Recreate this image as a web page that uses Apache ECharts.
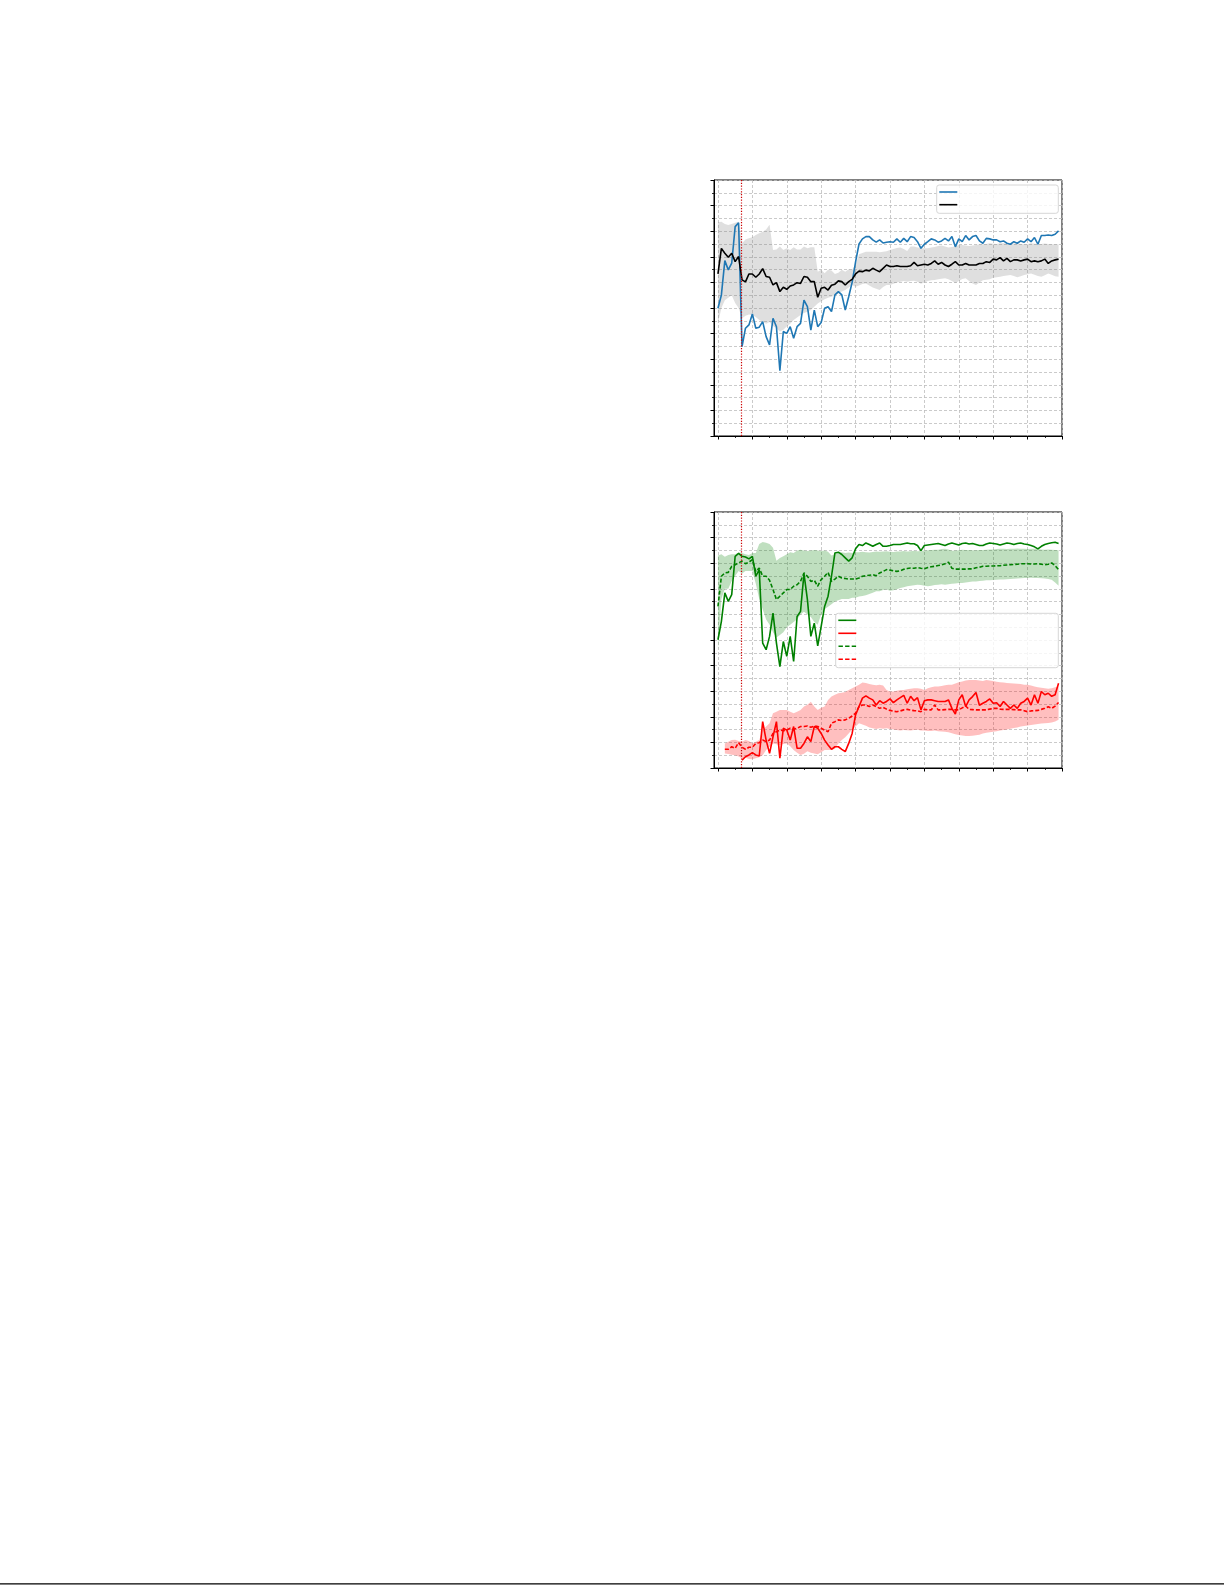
<!DOCTYPE html>
<html>
<head>
<meta charset="utf-8">
<script src="https://cdn.jsdelivr.net/npm/echarts@6/dist/echarts.min.js"></script>
<style>
  html, body { margin: 0; padding: 0; background: #ffffff; }
  #chart { width: 1225px; height: 1585px; }
</style>
</head>
<body>
<div id="chart"></div>
<script>
// ---------- data ----------
const xValues = [0,2,4,6,8,10,12,14,16,18,20,22,24,26,28,30,32,34,36,38,40,42,44,46,48,50,52,54,56,58,60,62,64,66,68,70,72,74,76,78,80,82,84,86,88,90,92,94,96,98,100,102,104,106,108,110,112,114,116,118,120,122,124,126,128,130,132,134,136,138,140,142,144,146,148,150,152,154,156,158,160,162,164,166,168,170,172,174,176,178,180,182,184,186,188,190,192,194,196,198];
const majorTicks = [0,20,40,60,80,100,120,140,160,180,200];
const minorTicks = [10,30,50,70,90,110,130,150,170,190];
const switchPoint = 13.5;

// top panel
const blueLine = [49.9,55.1,68.5,64.9,67.5,81.8,83.3,34.9,42.1,43.4,
47.7,42.1,42.5,44.7,38.8,35.6,46.0,42.7,25.5,40.8,
40.1,42.7,38.2,42.7,44.0,53.1,50.5,41.4,49.2,42.7,
44.3,49.9,50.5,48.6,55.1,56.4,55.1,49.2,54.4,60.0,
68.0,75.0,77.0,77.9,77.9,76.6,75.7,76.6,75.4,75.7,
75.9,75.7,77.0,75.7,77.2,75.9,77.9,77.5,75.9,73.3,
74.9,75.9,77.0,76.6,75.7,76.2,77.2,76.2,77.9,73.9,
77.0,75.9,78.3,76.6,77.9,78.3,76.2,75.3,77.2,77.0,
76.6,76.6,75.9,76.2,75.3,74.9,75.9,75.3,76.2,75.7,
77.0,75.9,77.5,74.9,78.3,78.3,78.5,78.3,78.8,80.1];
const blackLine = [63.3,73.3,71.4,69.8,71.4,68.1,70.1,61.0,60.2,63.3,
63.3,62.0,63.3,65.4,62.3,62.0,59.0,59.9,56.4,58.1,
57.3,58.6,59.0,59.9,59.6,62.3,62.0,60.3,60.3,54.2,
57.7,58.1,57.0,58.9,59.3,60.6,60.3,59.0,60.3,61.2,
63.3,64.4,64.2,64.8,64.5,65.5,64.8,64.2,65.5,66.8,
66.2,66.2,66.5,66.2,66.2,66.2,66.5,67.8,66.5,66.8,
67.1,66.8,67.4,68.4,67.1,67.8,66.8,66.2,67.1,68.1,
66.8,66.8,67.4,66.8,66.8,66.8,67.4,67.4,68.1,67.8,
69.1,68.8,69.7,68.4,69.4,68.1,68.8,68.8,68.4,68.8,
69.1,68.1,68.4,68.1,68.4,69.1,67.4,68.4,68.8,69.1];
const grayUpper = [83.5,83.7,82.8,82.4,82.8,83.3,83.7,75.3,76.8,77.2,
77.6,78.5,79.2,79.8,80.7,82.5,72.7,72.9,74.0,72.7,
73.3,72.7,73.7,72.9,72.9,74.0,73.3,73.7,73.7,64.2,
64.9,63.6,64.9,64.6,63.3,63.8,64.9,64.2,65.1,64.9,
67.0,71.0,71.5,72.0,72.0,72.0,72.0,71.8,72.0,72.2,
72.7,73.0,73.4,73.6,73.0,72.3,74.0,74.0,73.6,73.3,
73.3,73.3,73.6,73.8,74.2,74.4,74.0,73.6,73.8,74.0,
74.6,74.6,74.4,74.2,74.4,74.6,74.9,74.9,75.0,75.3,
75.1,75.0,75.3,75.3,75.0,74.9,75.2,75.3,75.0,74.9,
75.0,75.3,75.1,74.9,75.0,75.2,75.0,74.9,74.9,74.9];
const grayLower = [44,50,53,54,55,52,50,46.0,47.0,47.5,
47.3,46.5,45.3,44.5,43.8,44.5,43.0,42.1,40.8,41.5,
42.8,43.8,45.3,46.3,47.3,48.0,48.5,49.2,50.5,51.8,
52.6,53.4,54.0,54.4,55.0,55.7,56.4,57.0,58.0,59.0,
58.3,58.8,59.4,59.6,58.8,58.0,57.5,57.0,58.2,59.0,
59.0,59.5,60.0,60.3,60.5,60.3,60.5,60.6,60.3,59.5,
60.0,60.5,60.8,60.9,61.2,61.4,61.6,61.2,60.5,59.8,
60.5,61.3,61.6,60.5,59.6,59.0,60.0,60.8,61.0,61.2,
61.8,62.0,62.2,62.5,62.7,62.9,62.5,62.0,62.4,62.9,
63.2,63.5,63.0,62.5,62.2,62.8,63.5,63.0,62.4,62.2];

// bottom panel
const greenSolid = [50.1,57.3,68.4,65.1,67.7,82.7,83.8,82.7,82.4,81.7,
82.7,74.9,77.5,48.8,46.2,51.4,60.5,48.8,39.6,49.4,
43.6,51.4,41.6,59.2,61.2,75.9,65.8,51.4,56.6,47.7,
55.3,63.1,67.1,74.9,84.0,84.3,83.4,82.1,80.8,82.1,
85.6,87.3,86.9,87.9,87.3,86.6,87.3,87.9,86.6,86.6,
86.9,87.3,87.3,87.3,87.6,87.9,87.6,87.6,86.9,84.9,
86.9,87.1,87.3,87.5,87.7,87.3,86.9,87.5,87.9,87.5,
87.1,87.7,87.9,87.5,87.7,87.3,86.9,86.9,87.5,87.9,
87.7,87.5,87.1,87.5,87.9,87.7,87.3,87.7,87.9,87.5,
87.3,86.9,86.4,85.6,86.6,87.3,87.7,88.0,88.2,87.7];
const greenDashed = [63.1,74.9,76.2,76.4,78.8,79.4,80.1,80.8,79.8,80.4,
81.4,76.8,78.1,74.9,74.9,73.3,69.7,65.8,67.1,68.4,
69.7,69.7,71.0,71.6,72.9,76.2,74.9,72.9,73.3,71.0,
73.6,74.9,76.4,72.9,73.8,74.9,74.2,74.0,73.8,73.8,
73.8,74.2,74.9,75.1,75.3,75.5,75.1,76.2,76.8,77.5,
77.3,77.0,76.8,77.0,77.6,77.9,78.1,78.0,78.3,78.0,
77.8,78.3,78.6,78.8,79.1,79.3,79.8,80.4,78.0,77.7,
77.7,77.7,77.7,77.8,77.8,78.2,78.4,78.8,78.8,78.9,
78.9,79.0,79.0,79.2,79.3,79.4,79.5,79.6,79.8,79.8,
79.8,79.7,79.7,79.8,79.6,79.4,79.6,80.1,79.0,77.5];
const greenUpper = [83,83.5,82.5,83.2,83.5,83.5,84.2,84,83.5,83.2,
84,84,87.5,88.3,88,87.5,86,81,82,82.7,
83.5,84.3,84,85,85.3,85,84.8,85,85.2,85,
84.8,85,84.5,83,83.5,84,84.3,84,84.2,84,
84.3,84.3,84.5,84.3,84.2,84.4,84.6,84.5,84.6,84.7,
84.5,84.4,84.6,84.6,84.8,84.6,84.7,84.9,84.7,84.8,
85.0,85.1,85.2,85.3,85.3,85.5,85.6,85.4,84.9,85.0,
85.1,85.3,85.2,85.2,85.1,85.1,85.2,85.2,85.3,85.4,
85.4,85.5,85.6,85.6,85.5,85.6,85.6,85.7,85.6,85.6,
85.5,85.6,85.6,85.5,85.4,85.3,85.4,85.3,85.2,85.1];
const greenLower = [46,66,70,70,73,75,77,76,77,77,
77,72,66,62,58,56,53,51,52,53,
55,56,57,58,60,61,60,59,57,56,
60,62,63,64,65,65.5,66,66,66,66.5,
66.5,67.0,67.2,67.5,68.0,68.5,69.0,69.0,69.5,69.7,
69.2,69.4,69.8,70.3,70.6,71.0,71.2,71.4,71.6,71.5,
71.2,71.0,71.2,71.5,71.6,71.8,71.6,71.8,72.0,72.1,
72.3,72.3,72.5,72.7,72.9,72.9,73.0,73.1,73.3,73.3,
73.4,73.5,73.6,73.6,73.7,73.8,73.9,74.0,74.1,74.2,
74.2,74.3,74.2,74.2,74.1,74.0,73.8,73.5,72.5,71.2];
const redSolid = [null,null,null,null,null,null,null,3.1,4.4,5.1,
6.0,5.1,4.7,18.1,10.9,5.7,12.2,18.1,3.8,15.5,
14.8,10.9,16.2,7.7,7.7,9.6,12.2,10.3,16.2,15.5,
13.5,10.9,9.0,7.3,8.3,8.3,7.3,6.4,9.6,13.5,
20.7,24.0,27.3,28.2,27.3,26.6,24.6,26.3,25.3,26.0,
27.0,25.5,26.6,27.5,28.4,25.3,28.0,26.3,27.5,22.7,
26.3,26.6,26.6,26.3,26.0,26.0,26.0,26.6,23.3,21.1,
26.6,28.6,24.0,26.6,27.9,29.5,24.5,25.3,26.0,27.0,
25.3,25.5,24.0,26.0,24.6,23.3,24.6,23.3,25.3,26.0,
27.3,24.6,28.6,25.3,29.9,28.6,29.2,28.0,28.6,33.1];
const redDashed = [null,null,7.3,7.3,8.3,7.7,9.9,8.1,7.3,8.1,
8.1,9.6,9.9,10.9,10.3,10.9,13.5,14.2,14.8,14.6,
14.8,15.5,15.1,15.5,16.2,16.2,16.4,15.9,16.4,16.2,
15.5,14.8,14.2,17.5,18.1,18.8,18.5,18.8,19.4,20.3,
21.4,24.0,24.6,24.6,24.0,24.6,24.0,23.3,23.7,23.0,
22.5,22.2,22.0,22.3,22.7,22.9,22.6,22.4,22.3,22.0,
22.9,22.7,22.7,24.6,22.7,22.7,22.8,22.9,22.9,22.7,
22.7,23.5,24.2,22.9,22.8,22.7,22.7,22.7,22.7,23.0,
23.3,23.3,23.0,22.9,22.9,22.9,22.8,22.7,22.7,22.4,
22.0,22.3,22.4,22.5,22.9,23.3,23.9,23.3,24.2,25.6];
const redUpper = [null,null,9.6,10.3,10.9,11.0,10.5,10.3,10.9,10.5,
9.6,10.3,10.9,14.9,16.2,17.5,21.4,22.0,22.7,22.7,
22.7,22.0,21.4,22.0,22.7,24.0,24.7,25.9,24.0,22.7,
23.5,24.0,26.6,27.9,28.6,29.2,29.4,29.7,30.5,31.2,
31.8,32.5,33.4,33.2,32.8,32.5,32.3,32.5,32.2,30.5,
29.9,29.9,30.2,30.5,30.5,30.8,31.0,31.2,31.2,31.0,
30.5,31.2,31.5,31.8,31.8,32.0,32.3,32.5,32.5,33.0,
33.5,33.8,34.2,34.4,34.4,34.4,34.2,34.0,34.4,34.2,
34.0,33.7,33.5,33.4,33.2,33.1,33.0,32.9,32.8,32.5,
32.5,32.2,31.8,31.5,31.3,31.2,31.0,31.2,31.5,31.8];
const redLower = [null,null,5.7,5.5,5.2,5.0,4.5,3.7,4.0,3.5,
3.4,3.8,4.2,5.0,7.0,8.3,9.6,9.3,9.0,9.4,
9.6,8.5,7.0,6.0,5.1,5.6,6.5,6.0,5.7,5.4,
6.2,7.0,7.0,7.0,7.5,9.6,10.9,12.0,13.5,15.0,
16.2,17.5,17.0,16.5,15.8,15.5,15.2,15.5,15.3,15.5,
15.2,15.0,14.8,14.6,14.8,14.7,14.6,14.8,14.9,14.6,
14.6,14.5,14.5,14.6,14.4,14.3,14.2,14.0,13.6,13.2,
12.9,12.7,12.5,12.5,12.6,12.8,13.0,13.5,13.8,14.0,
14.2,14.4,14.6,14.8,15.0,15.3,15.6,15.8,16.2,16.4,
16.6,16.8,17.0,17.2,17.4,17.5,17.6,17.8,18.2,18.8];

// ---------- helpers ----------
function pairs(vals) {
  return xValues.map((x, i) => [x, vals[i] == null ? '-' : vals[i]]);
}

const gridColor = '#bdbdbd';
const gridLine = { show: true, lineStyle: { color: gridColor, width: 0.8, type: [3, 2] } };
const XMIN = -2.3, XMAX = 200;

function xMain(g) {
  return {
    type: 'value', gridIndex: g, position: 'bottom', min: XMIN, max: XMAX,
    minInterval: 10, maxInterval: 10,
    axisLine: { show: true, onZero: false, lineStyle: { color: '#000', width: 1 } },
    axisTick: { show: true, length: 3.5, customValues: majorTicks, lineStyle: { color: '#000', width: 1 } },
    axisLabel: { show: false },
    splitLine: gridLine
  };
}
function xMinor(g) {
  return {
    type: 'value', gridIndex: g, position: 'bottom', min: XMIN, max: XMAX,
    minInterval: 10, maxInterval: 10,
    axisLine: { show: false, onZero: false },
    axisTick: { show: true, length: 2, customValues: minorTicks, lineStyle: { color: '#000', width: 0.8 } },
    axisLabel: { show: false },
    splitLine: { show: false }
  };
}
function yAx(g) {
  return {
    type: 'value', gridIndex: g, min: 0, max: 100, interval: 10,
    axisLine: { show: true, onZero: false, lineStyle: { color: '#000', width: 1 } },
    axisTick: { show: true, length: 3.5, lineStyle: { color: '#000', width: 1 } },
    minorTick: { show: true, splitNumber: 2, length: 2, lineStyle: { color: '#000', width: 0.8 } },
    axisLabel: { show: false },
    splitLine: gridLine,
    minorSplitLine: gridLine
  };
}
// shaded band drawn as one polygon through the axes' own coordinate mapping
function band(up, lo, color, xi, yi) {
  const rows = xValues.map((x, i) => [x, lo[i] == null ? '-' : lo[i], up[i] == null ? '-' : up[i]]);
  return {
    type: 'custom', xAxisIndex: xi, yAxisIndex: yi, silent: true, z: 1,
    data: rows, encode: { x: 0, y: [1, 2] },
    renderItem: function (params, api) {
      if (params.dataIndex !== 0) return null;
      const top = [], bottom = [];
      for (let i = 0; i < xValues.length; i++) {
        if (up[i] == null || lo[i] == null) continue;
        top.push(api.coord([xValues[i], up[i]]));
        bottom.push(api.coord([xValues[i], lo[i]]));
      }
      const pts = top.concat(bottom.reverse());
      return { type: 'polygon', shape: { points: pts }, style: { fill: color, stroke: null } };
    }
  };
}
function line(name, vals, color, dashed, xi, yi, extra) {
  return Object.assign({
    name: name, type: 'line', xAxisIndex: xi, yAxisIndex: yi, data: pairs(vals),
    symbol: 'none', showSymbol: false, silent: true,
    lineStyle: { color: color, width: 1.6, type: dashed ? [4, 2] : 'solid' },
    itemStyle: { color: color }, z: 3
  }, extra || {});
}
const switchMark = {
  silent: true, symbol: 'none', label: { show: false },
  lineStyle: { type: [1.2, 1.6], color: '#cc0000', width: 1.2 },
  data: [{ xAxis: switchPoint }]
};
const solidIcon = 'path://M0,0H18V1.6H0Z';
const dashIcon = 'path://M0,0H4.4V1.6H0Z M6.6,0H11V1.6H6.6Z M13.2,0H17.6V1.6H13.2Z';

const option = {
  animation: false,
  backgroundColor: '#ffffff',
  grid: [
    { left: 714, top: 180, width: 348, height: 256, show: true, borderColor: '#000', borderWidth: 1, backgroundColor: 'transparent' },
    { left: 714, top: 512, width: 348, height: 256, show: true, borderColor: '#000', borderWidth: 1, backgroundColor: 'transparent' }
  ],
  xAxis: [xMain(0), xMinor(0), xMain(1), xMinor(1)],
  yAxis: [yAx(0), yAx(1)],
  legend: [
    { data: [{ name: 'Blue run', icon: solidIcon }, { name: 'Black run', icon: solidIcon }],
      orient: 'vertical', left: 939.3, top: 191.2,
      itemWidth: 18.4, itemHeight: 1.6, itemGap: 11.1, padding: 0, selectedMode: false,
      formatter: () => '', textStyle: { fontSize: 1, lineHeight: 1 }, z: 10 },
    { data: [{ name: 'Green solid', icon: solidIcon }, { name: 'Red solid', icon: solidIcon },
             { name: 'Green dashed', icon: dashIcon }, { name: 'Red dashed', icon: dashIcon }],
      orient: 'vertical', left: 838.3, top: 619.5,
      itemWidth: 18.4, itemHeight: 1.6, itemGap: 11.4, padding: 0, selectedMode: false,
      formatter: () => '', textStyle: { fontSize: 1, lineHeight: 1 }, z: 10 }
  ],
  graphic: [
    { type: 'rect', z: 6, silent: true, shape: { x: 936.7, y: 185, width: 121.6, height: 28.3, r: 2.5 },
      style: { fill: 'rgba(255,255,255,0.8)', stroke: '#d6d6d6', lineWidth: 1 } },
    { type: 'rect', z: 6, silent: true, shape: { x: 835.7, y: 613.3, width: 222.6, height: 54.4, r: 2.5 },
      style: { fill: 'rgba(255,255,255,0.8)', stroke: '#d6d6d6', lineWidth: 1 } },
    { type: 'line', z: 6, silent: true, shape: { x1: 0, y1: 1583.8, x2: 1224, y2: 1583.8 },
      style: { stroke: '#000', lineWidth: 1.2 } }
  ],
  series: [
    band(grayUpper, grayLower, 'rgba(128,128,128,0.25)', 0, 0),
    line('Blue run', blueLine, '#1f77b4', false, 0, 0),
    line('Black run', blackLine, '#000000', false, 0, 0, { markLine: switchMark }),
    band(greenUpper, greenLower, 'rgba(0,128,0,0.25)', 2, 1),
    band(redUpper, redLower, 'rgba(255,0,0,0.25)', 2, 1),
    line('Green solid', greenSolid, '#008000', false, 2, 1),
    line('Red solid', redSolid, '#ff0000', false, 2, 1),
    line('Green dashed', greenDashed, '#008000', true, 2, 1),
    line('Red dashed', redDashed, '#ff0000', true, 2, 1, { markLine: switchMark })
  ]
};

const chart = echarts.init(document.getElementById('chart'));
chart.setOption(option);
</script>
</body>
</html>
